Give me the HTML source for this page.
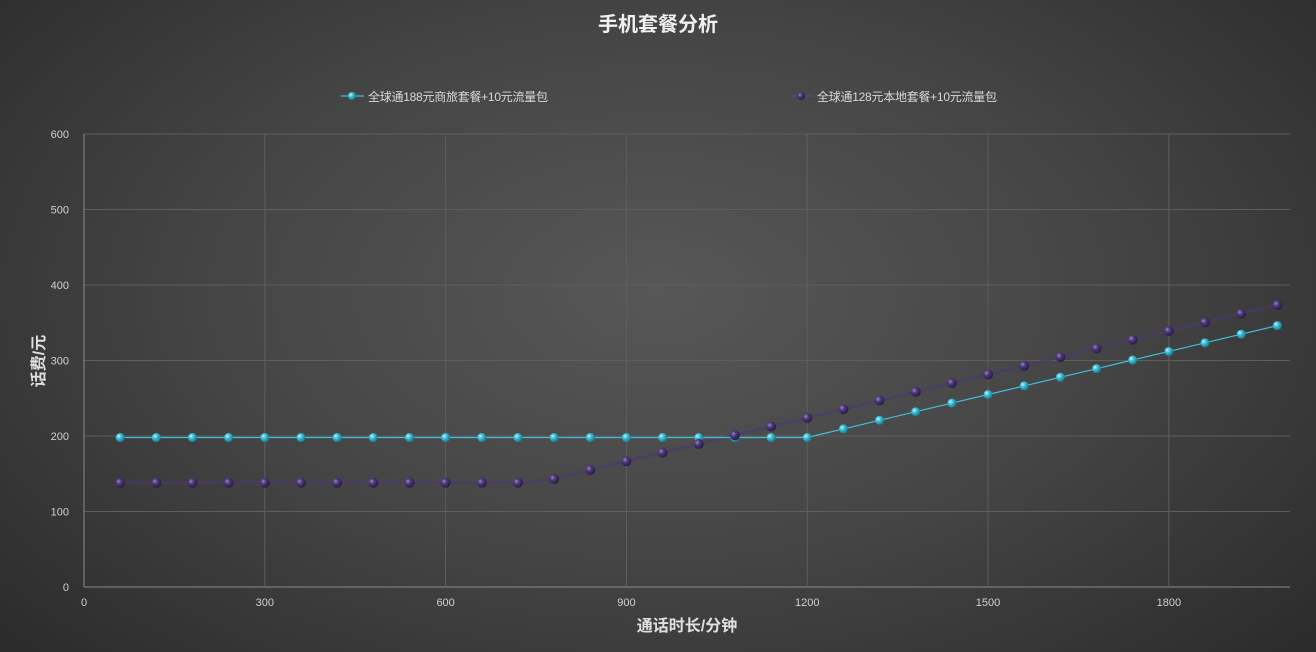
<!DOCTYPE html>
<html><head><meta charset="utf-8"><style>
html,body{margin:0;padding:0;width:1316px;height:652px;overflow:hidden;}
body{background:radial-gradient(ellipse 75% 90% at 50% 45%,#575757 0%,#454545 45%,#2e2e2e 85%,#262626 100%);font-family:"Liberation Sans","Noto Sans CJK SC",sans-serif;}
</style></head><body>
<svg id="c" width="1316" height="652" xmlns="http://www.w3.org/2000/svg" style="position:absolute;left:0;top:0">
<defs>
<radialGradient id="gc" cx="35%" cy="35%" r="65%"><stop offset="0" stop-color="#c8f4ff"/><stop offset="0.4" stop-color="#3fc1da"/><stop offset="1" stop-color="#1a7f96"/></radialGradient>
<radialGradient id="gp" cx="35%" cy="35%" r="65%"><stop offset="0" stop-color="#9a86c0"/><stop offset="0.4" stop-color="#4e3a78"/><stop offset="1" stop-color="#2a1c48"/></radialGradient>
</defs>
<text x="658" y="31" text-anchor="middle" fill="#f0f0f0" font-size="20" font-weight="bold">手机套餐分析</text>
<g font-size="12" fill="#d8d8d8">
<line x1="341" y1="96" x2="364" y2="96" stroke="#3fc1da" stroke-width="1.2"/><circle cx="352" cy="96" r="4" fill="url(#gc)"/>
<text x="368" y="101" textLength="180">全球通188元商旅套餐+10元流量包</text>
<line x1="790" y1="96" x2="813" y2="96" stroke="#5a4a80" stroke-width="1.2"/><circle cx="801" cy="96" r="4" fill="url(#gp)"/>
<text x="817" y="101" textLength="180">全球通128元本地套餐+10元流量包</text>
</g>
<g id="grid" stroke="#6a6a6a" stroke-width="1"></g>
<g id="lbl" font-size="11" fill="#d0d0d0"></g>
<text x="687" y="631" text-anchor="middle" fill="#e0e0e0" font-size="16" font-weight="bold">通话时长/分钟</text>
<text transform="translate(44,361) rotate(-90)" text-anchor="middle" fill="#e0e0e0" font-size="16" font-weight="bold">话费/元</text>
<g id="s"></g>
</svg>
<script>
var ns="http://www.w3.org/2000/svg";
function X(v){return 84+v*0.6027;}function Y(v){return 587-v*0.755;}
function el(p,t,a,txt){var e=document.createElementNS(ns,t);for(var k in a)e.setAttribute(k,a[k]);if(txt!=null)e.textContent=txt;document.getElementById(p).appendChild(e);return e;}
for(var v=0;v<=600;v+=100){el("grid","line",{x1:84,x2:1290,y1:Y(v),y2:Y(v),stroke:v==0?"#8a8a8a":"#5e5e5e"});el("lbl","text",{x:69,y:Y(v)+4,"text-anchor":"end"},v);}
for(var v=0;v<=1800;v+=300){el("grid","line",{x1:X(v),x2:X(v),y1:134,y2:587,stroke:v==0?"#8a8a8a":"#5e5e5e"});el("lbl","text",{x:X(v),y:606,"text-anchor":"middle"},v);}
var a=[],b=[];
for(var i=1;i<=33;i++){var m=i*60;
var s1=m<=1200?198:198+(m-1200)/60*11.4;
var s2;if(m<=720)s2=138;else if(m==780)s2=143;else s2=155+(m-840)/60*11.5;
a.push([X(m),Y(s1)]);b.push([X(m),Y(s2)]);}
function pts(p){return p.map(function(q){return q[0].toFixed(1)+","+q[1].toFixed(1)}).join(" ");}
el("s","polyline",{points:pts(b),fill:"none",stroke:"#4a3a6e","stroke-width":3,"stroke-opacity":0.6});
el("s","polyline",{points:pts(a),fill:"none",stroke:"#3fc1da","stroke-width":1.2});
a.forEach(function(q){el("s","circle",{cx:q[0],cy:q[1],r:4.5,fill:"url(#gc)"});});
b.forEach(function(q){el("s","circle",{cx:q[0],cy:q[1],r:5,fill:"url(#gp)"});});
</script>
</body></html>
